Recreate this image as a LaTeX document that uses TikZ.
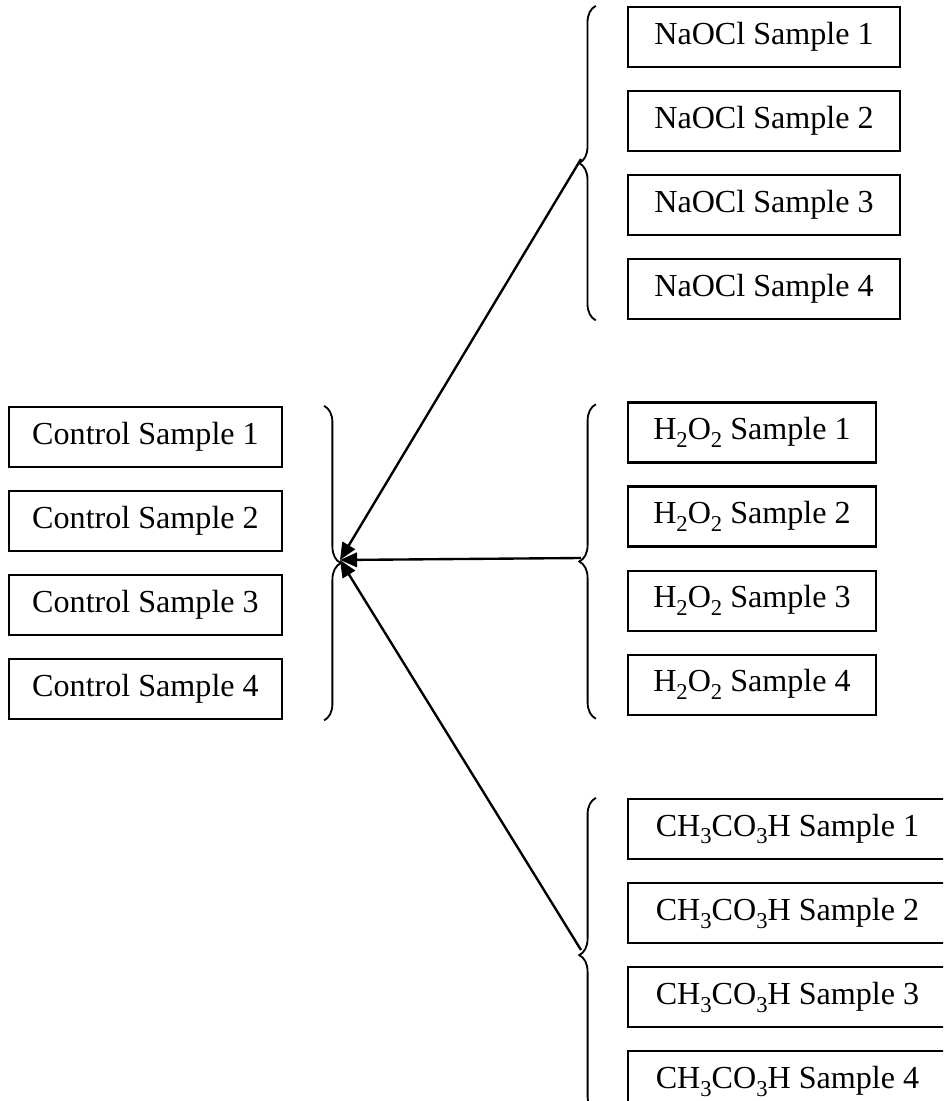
\documentclass[tikz,border=0pt]{standalone}
\usepackage{fontspec}
\setmainfont{Liberation Serif}
\usetikzlibrary{arrows.meta,positioning,decorations.pathreplacing}
\newcommand\chsub[1]{\raisebox{-3pt}{\fontsize{8.6}{9}\selectfont #1}}

\begin{document}
\begin{tikzpicture}[x=0.38pt,y=-0.38pt,
      box/.style={draw,line width=0.85pt,minimum height=22.8pt,inner sep=0pt,font=\fontsize{12.2}{14}\selectfont},
      brc/.style={decorate,decoration={brace,amplitude=6.3pt},line width=0.7pt},
      arr/.style={-{Triangle[length=6.5pt,width=5.5pt]},line width=0.9pt}]
    \useasboundingbox (0,0) rectangle (943,1101);
    \begin{scope}
    \clip (0,0) rectangle (943,1101);
    % control samples
    \node[box,minimum width=103.7pt] (c1) at (145.5,437) {Control Sample 1};
    \node[box,minimum width=103.7pt,below=8.3pt of c1] (c2) {Control Sample 2};
    \node[box,minimum width=103.7pt,below=8.3pt of c2] (c3) {Control Sample 3};
    \node[box,minimum width=103.7pt,below=8.3pt of c3] (c4) {Control Sample 4};
    % NaOCl
    \node[box,minimum width=103.4pt] (n1) at (764,37) {NaOCl Sample 1};
    \node[box,minimum width=103.4pt,below=8.3pt of n1] (n2) {NaOCl Sample 2};
    \node[box,minimum width=103.4pt,below=8.3pt of n2] (n3) {NaOCl Sample 3};
    \node[box,minimum width=103.4pt,below=8.3pt of n3] (n4) {NaOCl Sample 4};
    % H2O2
    \node[box,minimum width=94.2pt] (h1) at (752,432.5) {H\chsub{2}O\chsub{2} Sample 1};
    \node[box,minimum width=94.2pt,below=8.3pt of h1] (h2) {H\chsub{2}O\chsub{2} Sample 2};
    \node[box,minimum width=94.2pt,below=8.3pt of h2] (h3) {H\chsub{2}O\chsub{2} Sample 3};
    \node[box,minimum width=94.2pt,below=8.3pt of h3] (h4) {H\chsub{2}O\chsub{2} Sample 4};
    % CH3CO3H
    \node[box,minimum width=121.2pt] (p1) at (787.5,829) {CH\chsub{3}CO\chsub{3}H Sample 1};
    \node[box,minimum width=121.2pt,below=8.3pt of p1] (p2) {CH\chsub{3}CO\chsub{3}H Sample 2};
    \node[box,minimum width=121.2pt,below=8.3pt of p2] (p3) {CH\chsub{3}CO\chsub{3}H Sample 3};
    \node[box,minimum width=121.2pt,below=8.3pt of p3] (p4) {CH\chsub{3}CO\chsub{3}H Sample 4};
    % braces
    \draw[brc] ([xshift=15.6pt]c1.north east) -- ([xshift=15.6pt]c4.south east);
    \draw[brc] ([xshift=-11.8pt]n4.south west) -- ([xshift=-11.8pt]n1.north west);
    \draw[brc] ([xshift=-11.8pt,yshift=-1.1pt]h4.south west) -- ([xshift=-11.8pt,yshift=-1.1pt]h1.north west);
    \draw[brc] ([xshift=-11.8pt]p4.south west) -- ([xshift=-11.8pt]p1.north west);
    \coordinate (ctip) at (340,560);
    \coordinate (ntip) at (581,159);
    \coordinate (htip) at (581,558);
    \coordinate (ptip) at (581,950);
    \draw[arr] (ntip) -- (ctip);
    \draw[arr] (htip) -- (ctip);
    \draw[arr] (ptip) -- (ctip);
    \end{scope}
  \end{tikzpicture}
\end{document}
